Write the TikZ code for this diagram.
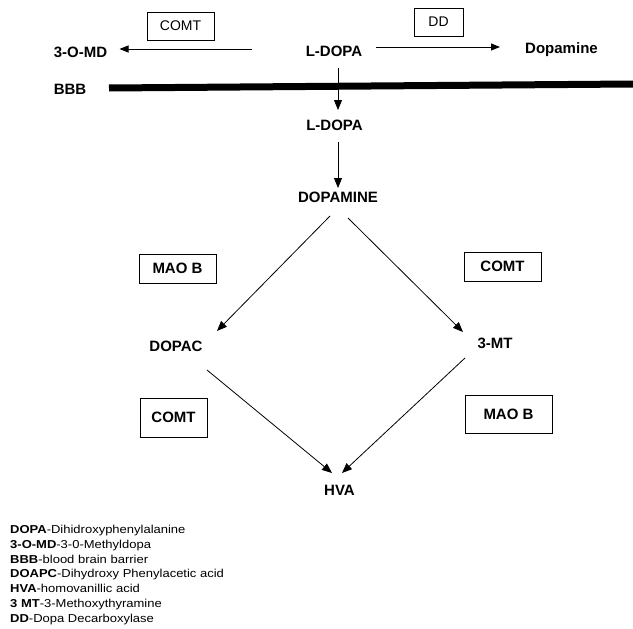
\documentclass[tikz,border=0pt]{standalone}
\usepackage{fontspec}
\setmainfont{Liberation Sans}
\newfontfamily\legfont[FakeStretch=1.13]{Liberation Sans}
\usetikzlibrary{arrows.meta,calc}
\tikzset{
  lbl/.style={font=\fontsize{15}{18}\selectfont\bfseries},
  enz/.style={draw,line width=0.6pt,font=\fontsize{15}{18}\selectfont\bfseries},
  enzt/.style={draw,line width=0.6pt,font=\fontsize{14}{17}\selectfont},
  rx/.style={line width=0.8pt,-{Triangle[length=10pt,width=8pt]}},
  rxs/.style={line width=0.8pt,-{Triangle[length=9pt,width=7pt]}},
  bar/.style={line width=7pt},
  leg/.style={anchor=base west,inner sep=0pt,font=\legfont\fontsize{11.5}{14}\selectfont}
}
\newcommand{\legline}[4]{\node[leg] (#1) at (10,#2) {\textbf{#3}-#4};}

\begin{document}
\begin{tikzpicture}[x=1pt,y=-1pt]
\useasboundingbox (0,0) rectangle (633,629);
\node[lbl] (omd) at (80.5,52) {3-O-MD};
\node[lbl] (ldopaTop) at (334,51) {L-DOPA};
\node[lbl] (dopTop) at (561.5,50) {Dopamine};
\node[enzt,minimum width=67pt,minimum height=28pt] (comtTop) at (180.5,26) {COMT};
\node[enzt,minimum width=49pt,minimum height=28pt] (ddTop) at (438.5,22) {DD};
\draw[rxs] ($(ldopaTop)+(-82,-2)$) -- ($(omd)+(39,-3)$);
\draw[rxs] ($(ldopaTop)+(42,-4)$) -- ($(dopTop)+(-61.5,-3)$);
\node[lbl] (bbb) at (70,89) {BBB};
\coordinate (barEnd) at (633,84);
\draw[bar] ($(bbb)+(39,-1)$) -- (barEnd);
\node[lbl] (ldopaMid) at (334.5,125) {L-DOPA};
\node[lbl] (dopamine) at (338,197) {DOPAMINE};
\draw[rx] ($(ldopaTop)+(4,17)$) -- ($(ldopaMid)+(3.5,-15)$);
\draw[rx] ($(ldopaMid)+(3.5,17)$) -- ($(dopamine)+(0,-9)$);
\node[lbl] (dopac) at (176,346) {DOPAC};
\node[lbl] (mt) at (495,343) {3-MT};
\node[lbl] (hva) at (339.5,490) {HVA};
\node[enz,minimum width=77pt,minimum height=29pt] (maoL) at (177.5,268.5) {MAO B};
\node[enz,minimum width=77pt,minimum height=29pt] (comtR) at (502.5,266.5) {COMT};
\node[enz,minimum width=67pt,minimum height=39pt] (comtL) at (173.5,417.5) {COMT};
\node[enz,minimum width=87pt,minimum height=38pt] (maoR) at (508.5,414) {MAO B};
\draw[rx] ($(dopamine)+(-8,19)$) -- ($(dopac)+(41,-15)$);
\draw[rx] ($(dopamine)+(10,21)$) -- ($(mt)+(-32,-11)$);
\draw[rx] ($(dopac)+(31,24)$) -- ($(hva)+(-7.5,-17)$);
\draw[rx] ($(mt)+(-30,15)$) -- ($(hva)+(2.5,-17)$);
\legline{legDopa}{533}{DOPA}{Dihidroxyphenylalanine}
\legline{legOmd}{548}{3-O-MD}{3-0-Methyldopa}
\legline{legBbb}{563}{BBB}{blood brain barrier}
\legline{legDoapc}{577}{DOAPC}{Dihydroxy Phenylacetic acid}
\legline{legHva}{592}{HVA}{homovanillic acid}
\legline{legMt}{607}{3 MT}{3-Methoxythyramine}
\legline{legDd}{622}{DD}{Dopa Decarboxylase}
\end{tikzpicture}
\end{document}
